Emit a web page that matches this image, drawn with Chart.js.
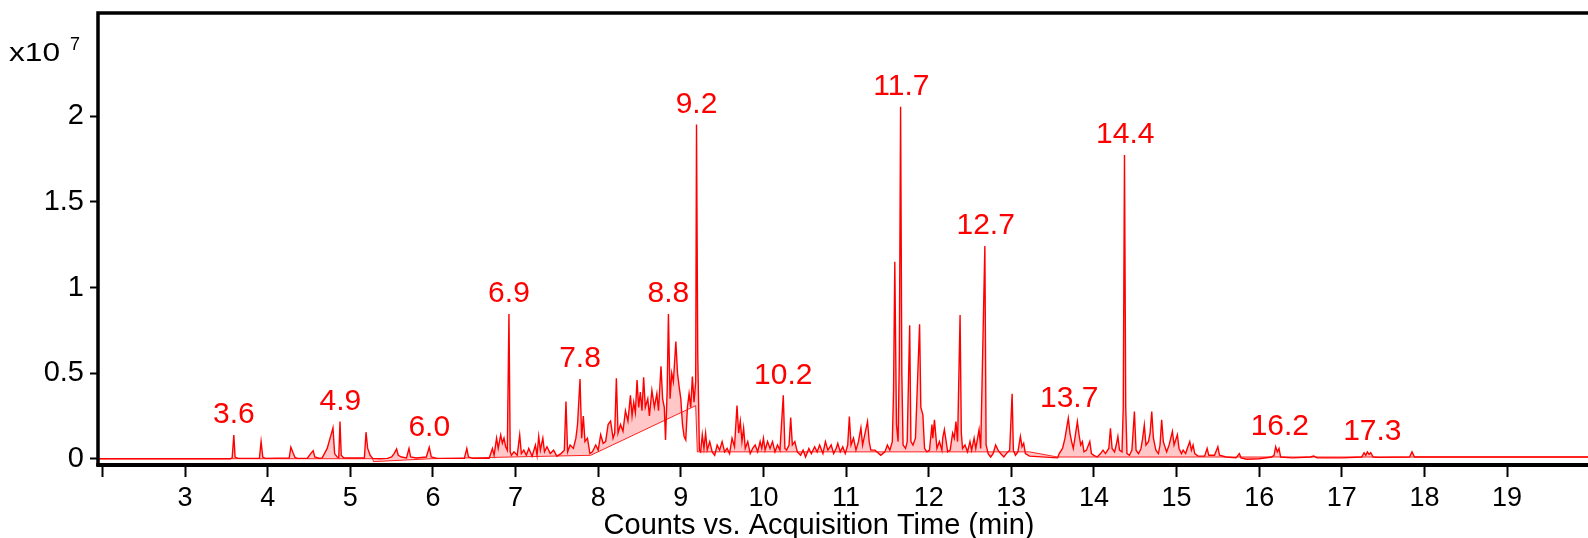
<!DOCTYPE html>
<html>
<head>
<meta charset="utf-8">
<script src="https://cdn.jsdelivr.net/npm/chart.js@4.4.1/dist/chart.umd.min.js"></script>
<style>
html, body { margin: 0; padding: 0; background: #fff; }
#wrap { width: 1588px; height: 538px; }
</style>
</head>
<body>
<div id="wrap"><canvas id="myChart" width="1588" height="538"></canvas></div>
<script>
// retention time (min), counts (x10^7)
const traceEarly = [
    [1.95,0],[3.55,0],[3.57,0.005],[3.59,0.139],[3.605,0.01],[3.64,0.002],
    [3.9,0.002],[3.92,0.10],[3.94,0.01],[3.97,0.002],
    [4.26,0.004],[4.28,0.067],[4.31,0.03],[4.33,0.008],[4.36,0.002],
    [4.48,0.003],[4.52,0.03],[4.55,0.047],[4.57,0.01],[4.62,0.003],
    [4.66,0.005],[4.72,0.06],[4.79,0.18],[4.81,0.03],[4.84,0.01],[4.86,0.005],[4.875,0.217],[4.89,0.02],[4.92,0.004],
    [5.17,0.004],[5.19,0.155],[5.21,0.06],[5.24,0.02],[5.27,0.002],
    [5.35,0],[5.45,0.002],[5.5,0.01],[5.53,0.03],[5.56,0.057],[5.58,0.02],[5.62,0.01],[5.68,0.005],[5.71,0.06],[5.73,0.01],
    [5.8,0.004],[5.92,0.01],[5.955,0.067],[5.98,0.01],[6.05,0.002],
    [6.38,0.002],[6.41,0.06],[6.43,0.01],[6.48,0.002],[6.68,0.003]
];
const traceHump = [
    [6.72,0.06],[6.74,0.02],[6.77,0.12],[6.79,0.06],[6.82,0.139],[6.84,0.09],[6.86,0.12],[6.88,0.07],[6.9,0.05],[6.92,0.846],[6.935,0.04],[6.95,0.02],
    [6.98,0.04],[7.02,0.02],[7.05,0.139],[7.07,0.03],[7.1,0.05],[7.13,0.02],[7.16,0.06],[7.2,0.015],[7.24,0.08],[7.26,0.02],
    [7.28,0.13],[7.3,0.05],[7.33,0.12],[7.35,0.04],[7.38,0.07],[7.42,0.03],[7.46,0.05],[7.5,0.015],[7.55,0.03],[7.59,0.05],
    [7.61,0.334],[7.63,0.04],[7.66,0.08],[7.7,0.06],[7.73,0.12],[7.75,0.2],[7.78,0.466],[7.8,0.12],[7.82,0.25],[7.84,0.1],
    [7.87,0.12],[7.9,0.03],[7.93,0.04],[7.97,0.08],[8.0,0.05],[8.03,0.14],[8.06,0.09],[8.09,0.1],[8.12,0.2],[8.15,0.22],
    [8.18,0.12],[8.2,0.15],[8.22,0.47],[8.24,0.15],[8.27,0.2],[8.3,0.16],[8.33,0.28],[8.36,0.22],[8.39,0.37],[8.41,0.25],
    [8.43,0.33],[8.45,0.27],[8.47,0.46],[8.49,0.3],[8.51,0.39],[8.53,0.28],[8.55,0.476],[8.57,0.3],[8.6,0.35],[8.62,0.25],
    [8.65,0.4],[8.68,0.3],[8.71,0.38],[8.73,0.28],[8.76,0.54],[8.78,0.35],[8.8,0.3],[8.815,0.11],[8.835,0.4],[8.85,0.846],
    [8.87,0.35],[8.89,0.5],[8.91,0.45],[8.94,0.684],[8.96,0.5],[8.98,0.42],[9.0,0.35],[9.02,0.2],[9.04,0.13],[9.06,0.11],
    [9.08,0.3],[9.1,0.38],[9.12,0.3],[9.14,0.48],[9.16,0.33],[9.18,0.45],[9.19,1.952],[9.205,0.6],[9.225,0.05]
];
const traceMid = [
    [9.24,0.04],[9.26,0.14],[9.28,0.06],[9.3,0.15],[9.32,0.05],[9.35,0.1],[9.38,0.04],[9.41,0.02],[9.44,0.08],[9.47,0.05],
    [9.5,0.1],[9.53,0.04],[9.56,0.06],[9.59,0.03],[9.62,0.12],[9.65,0.07],[9.68,0.31],[9.7,0.15],[9.72,0.22],[9.74,0.1],
    [9.76,0.18],[9.78,0.06],[9.81,0.1],[9.84,0.03],[9.87,0.06],[9.9,0.08],[9.93,0.04],[9.96,0.1],[9.98,0.06],[10.0,0.12],
    [10.02,0.05],[10.05,0.1],[10.08,0.06],[10.11,0.1],[10.14,0.04],[10.17,0.08],[10.2,0.05],[10.24,0.37],[10.26,0.06],[10.28,0.05],
    [10.31,0.08],[10.33,0.24],[10.35,0.08],[10.38,0.1],[10.41,0.04],[10.45,0.02],[10.48,0.05],[10.51,0.01],[10.55,0.06],[10.58,0.03],
    [10.62,0.07],[10.65,0.04],[10.68,0.08],[10.72,0.03],[10.75,0.1],[10.78,0.05],[10.82,0.08],[10.85,0.03],[10.88,0.06],[10.9,0.09],
    [10.93,0.04],[10.96,0.07],[10.99,0.03],[11.02,0.08],[11.04,0.246],[11.06,0.08],[11.09,0.12],[11.12,0.05],[11.15,0.1],[11.18,0.18],
    [11.2,0.08],[11.23,0.15],[11.26,0.217],[11.28,0.1],[11.3,0.05],[11.35,0.05],[11.42,0.02],[11.47,0.04],[11.5,0.08],[11.53,0.05],
    [11.56,0.1],[11.575,0.4],[11.59,1.15],[11.61,0.2],[11.63,0.1],[11.645,0.6],[11.66,2.057],[11.675,0.5],[11.69,0.08],[11.72,0.06],
    [11.74,0.1],[11.77,0.78],[11.785,0.1],[11.81,0.08],[11.84,0.12],[11.89,0.786],[11.905,0.3],[11.93,0.256],[11.95,0.06],[11.98,0.04],
    [12.01,0.05],[12.04,0.2],[12.05,0.12],[12.07,0.227],[12.1,0.06],[12.13,0.1],[12.16,0.05],[12.17,0.12],[12.19,0.17],[12.23,0.04],
    [12.26,0.05],[12.29,0.15],[12.31,0.12],[12.33,0.217],[12.35,0.1],[12.38,0.84],[12.395,0.15],[12.41,0.06],[12.44,0.08],[12.47,0.04],
    [12.5,0.1],[12.52,0.05],[12.55,0.12],[12.57,0.06],[12.61,0.17],[12.63,0.06],[12.68,1.243],[12.695,0.08],[12.72,0.03],[12.75,0.01],
    [12.78,0.03],[12.81,0.08],[12.84,0.05],[12.87,0.03],[12.91,0.01],[12.94,0.03],[12.98,0.05],[13.01,0.38],[13.025,0.05],[13.05,0.02],
    [13.08,0.04],[13.11,0.13],[13.13,0.07],[13.15,0.09],[13.17,0.03],[13.22,0.015],[13.56,0.005]
];
const traceLate = [
    [13.58,0.03],[13.62,0.06],[13.65,0.12],[13.67,0.18],[13.69,0.236],[13.71,0.15],[13.73,0.1],[13.75,0.06],[13.77,0.12],[13.8,0.217],
    [13.82,0.14],[13.84,0.08],[13.86,0.1],[13.88,0.04],[13.91,0.05],[13.95,0.1],[13.97,0.03],[14.0,0.02],[14.04,0.01],[14.08,0.03],
    [14.11,0.05],[14.14,0.03],[14.18,0.06],[14.2,0.178],[14.22,0.06],[14.25,0.04],[14.27,0.08],[14.29,0.13],[14.31,0.05],[14.34,0.04],
    [14.355,0.3],[14.37,1.775],[14.385,0.3],[14.4,0.03],[14.43,0.02],[14.46,0.05],[14.49,0.275],[14.51,0.05],[14.54,0.03],[14.57,0.06],
    [14.59,0.12],[14.61,0.197],[14.63,0.08],[14.66,0.1],[14.68,0.15],[14.7,0.275],[14.72,0.12],[14.75,0.05],[14.78,0.03],[14.8,0.08],
    [14.82,0.227],[14.84,0.1],[14.88,0.04],[14.91,0.08],[14.95,0.16],[14.97,0.08],[15.01,0.14],[15.03,0.06],[15.06,0.03],[15.08,0.05],
    [15.11,0.03],[15.13,0.06],[15.16,0.1],[15.18,0.05],[15.2,0.08],[15.22,0.03],[15.26,0.015],[15.34,0.015],[15.37,0.06],[15.39,0.02],
    [15.46,0.02],[15.5,0.07],[15.52,0.02],[15.6,0.01],[15.72,0.005],[15.76,0.03],[15.78,0.005],[15.85,-0.003],[16.0,0],[16.15,0.01],
    [16.18,0.02],[16.2,0.07],[16.22,0.04],[16.24,0.06],[16.26,0.01],[16.4,0.005],[16.62,0.01],[16.66,0.016],[16.7,0.005],[17.0,0.005],
    [17.24,0.01],[17.27,0.035],[17.29,0.02],[17.31,0.04],[17.33,0.025],[17.35,0.035],[17.38,0.01],[17.45,0.008],[17.82,0.01],[17.85,0.04],
    [17.88,0.01],[18.0,0.01],[20.0,0.01]
];
// integration baseline drawn under the peaks
const baseTimes = [1.95, 5.27, 5.28, 5.98, 7.91, 9.18, 9.2, 13.22, 13.56, 15.6, 20.0];
const baseCounts = [0, 0, -0.017, 0, 0.02, 0.31, 0.04, 0.04, 0.01, 0.01, 0.01];

// labelled peaks
const peakNames = ["3.6", "4.9", "6.0", "6.9", "7.8", "8.8", "9.2", "10.2", "11.7", "12.7", "13.7", "14.4", "16.2", "17.3"];
const peakTimes = [3.59, 4.88, 5.955, 6.92, 7.78, 8.85, 9.19, 10.24, 11.67, 12.69, 13.7, 14.38, 16.25, 17.37];
const peakCounts = [0.139, 0.217, 0.067, 0.846, 0.466, 0.846, 1.952, 0.37, 2.057, 1.243, 0.236, 1.775, 0.07, 0.04];

const xTicks = [2, 3, 4, 5, 6, 7, 8, 9, 10, 11, 12, 13, 14, 15, 16, 17, 18, 19];
const xTickLabels = ["", "3", "4", "5", "6", "7", "8", "9", "10", "11", "12", "13", "14", "15", "16", "17", "18", "19"];
const yTicks = [0, 0.5, 1, 1.5, 2];
const yTickLabels = ["0", "0.5", "1", "1.5", "2"];

const trace = traceEarly.concat(traceHump, traceMid, traceLate);

let canvas = document.getElementById("myChart");
let ctx = canvas.getContext("2d");
const FONT = "'Liberation Sans', Arial, sans-serif";

// frame, peak labels, exponent and axis title
const extras = {
    id: "extras",
    afterDraw(chart) {
        const c = chart.ctx;
        const ca = chart.chartArea;
        const xs = chart.scales.x;
        const ys = chart.scales.y;
        c.save();
        c.strokeStyle = "#000";
        c.lineWidth = 3.5;
        c.beginPath();
        c.moveTo(ca.left, ca.bottom + 3);
        c.lineTo(ca.left, ca.top);
        c.lineTo(chart.width, ca.top);
        c.stroke();
        c.lineWidth = 4;
        c.beginPath();
        c.moveTo(ca.left - 1.75, ca.bottom + 2);
        c.lineTo(chart.width, ca.bottom + 2);
        c.stroke();

        c.fillStyle = "#ff0000";
        c.font = "30px " + FONT;
        c.textAlign = "center";
        c.textBaseline = "middle";
        peakNames.forEach((name, i) => {
            let px = xs.getPixelForValue(peakTimes[i]);
            let py = ys.getPixelForValue(peakCounts[i]) - 20;
            c.fillText(name, px, py);
        });

        c.fillStyle = "#000";
        c.textAlign = "left";
        c.textBaseline = "alphabetic";
        c.save();
        c.translate(9, 61);
        c.scale(1.22, 1);
        c.font = "26px " + FONT;
        c.fillText("x10", 0, 0);
        c.restore();
        c.font = "18px " + FONT;
        c.fillText("7", 70, 50);

        c.textAlign = "center";
        c.textBaseline = "middle";
        c.font = "29px " + FONT;
        c.fillText("Counts vs. Acquisition Time (min)", 819, 526);
        c.restore();
    }
};

let myChart = new Chart(ctx, {
    type: "line",
    data: {
        datasets: [{
            label: "TIC",
            data: trace.map(p => ({ x: p[0], y: p[1] })),
            borderColor: "rgb(255, 0, 0)",
            borderWidth: 1.4,
            backgroundColor: "rgba(255, 0, 0, 0.22)",
            fill: { target: 1 },
            pointRadius: 0,
            tension: 0
        }, {
            label: "Baseline",
            data: baseTimes.map((t, i) => ({ x: t, y: baseCounts[i] })),
            borderColor: "rgba(255, 0, 0, 0.85)",
            borderWidth: 1,
            fill: false,
            pointRadius: 0,
            tension: 0
        }]
    },
    options: {
        responsive: false,
        animation: false,
        layout: { padding: { top: 13, left: 0, right: 0, bottom: 0 } },
        plugins: {
            legend: { display: false },
            tooltip: { enabled: false }
        },
        scales: {
            x: {
                type: "linear",
                min: 1.946,
                max: 19.98,
                afterBuildTicks: s => { s.ticks = xTicks.map(v => ({ value: v })); },
                afterFit: s => { s.height = 75; s.paddingLeft = 0; s.paddingRight = 0; },
                border: { display: false },
                grid: { drawOnChartArea: false, tickLength: 14, tickWidth: 2, tickColor: "#000" },
                ticks: {
                    color: "#000",
                    font: { family: FONT, size: 27 },
                    padding: 5,
                    maxRotation: 0,
                    autoSkip: false,
                    callback: (v, i) => xTickLabels[i]
                }
            },
            y: {
                type: "linear",
                min: -0.025,
                max: 2.604,
                afterBuildTicks: s => { s.ticks = yTicks.map(v => ({ value: v })); },
                afterFit: s => { s.width = 98; s.paddingTop = 0; s.paddingBottom = 0; },
                border: { display: false },
                grid: { drawOnChartArea: false, tickLength: 8, tickWidth: 2, tickColor: "#000" },
                ticks: {
                    color: "#000",
                    font: { family: FONT, size: 29 },
                    padding: 6,
                    callback: (v, i) => yTickLabels[i]
                }
            }
        }
    },
    plugins: [extras]
});
</script>
</body>
</html>
